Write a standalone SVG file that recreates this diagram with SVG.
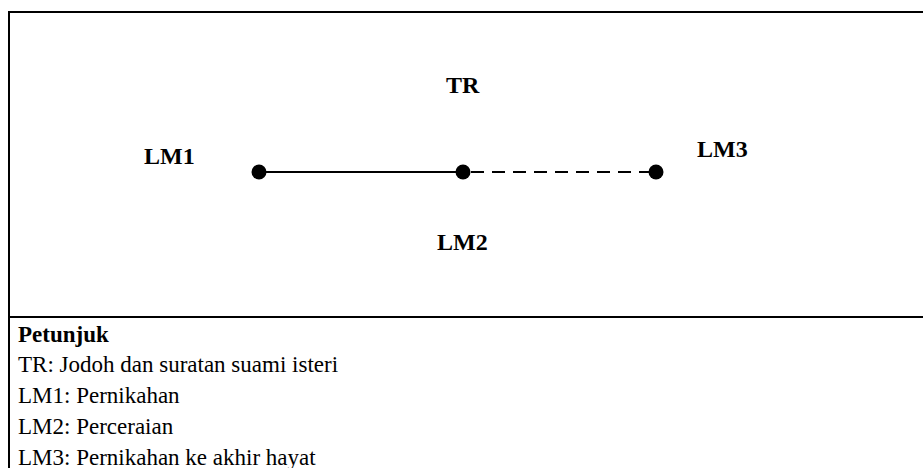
<svg xmlns="http://www.w3.org/2000/svg" width="923" height="468" viewBox="0 0 923 468">
<style>
.frame{stroke:#000;stroke-width:2;fill:none}
.lbl{font-family:"Liberation Serif","Times New Roman","DejaVu Serif",serif;font-size:24px;font-weight:bold;fill:#000}
.leg{font-family:"Liberation Serif","Times New Roman","DejaVu Serif",serif;font-size:23px;fill:#000}
.legh{font-family:"Liberation Serif","Times New Roman","DejaVu Serif",serif;font-size:23px;font-weight:bold;fill:#000}
.dot{fill:#000}
.ln{stroke:#000;stroke-width:2;fill:none}
</style>
<rect width="923" height="468" fill="#fff"/>
<g id="frame">
<line class="frame" x1="9" y1="12" x2="923" y2="12"/>
<line class="frame" x1="9" y1="11" x2="9" y2="468"/>
<line class="frame" x1="9" y1="317" x2="923" y2="317"/>
</g>
<g id="connectors">
<line class="ln" x1="259" y1="172" x2="463" y2="172"/>
<line class="ln" x1="471" y1="172" x2="656" y2="172" stroke-dasharray="13,8"/>
</g>
<g id="LM1"><circle class="dot" cx="259" cy="172" r="7.5"/><text class="lbl" x="144" y="164">LM1</text></g>
<g id="TR"><circle class="dot" cx="463" cy="172" r="7.5"/><text class="lbl" x="446" y="93">TR</text></g>
<g id="LM3"><circle class="dot" cx="656" cy="172" r="7.5"/><text class="lbl" x="697" y="157">LM3</text></g>
<g id="LM2"><text class="lbl" x="437" y="250">LM2</text></g>
<g id="legend">
<text class="legh" x="18" y="342">Petunjuk</text>
<text class="leg" x="18" y="372">TR: Jodoh dan suratan suami isteri</text>
<text class="leg" x="18" y="403">LM1: Pernikahan</text>
<text class="leg" x="18" y="434">LM2: Perceraian</text>
<text class="leg" x="18" y="465">LM3: Pernikahan ke akhir hayat</text>
</g>
</svg>
